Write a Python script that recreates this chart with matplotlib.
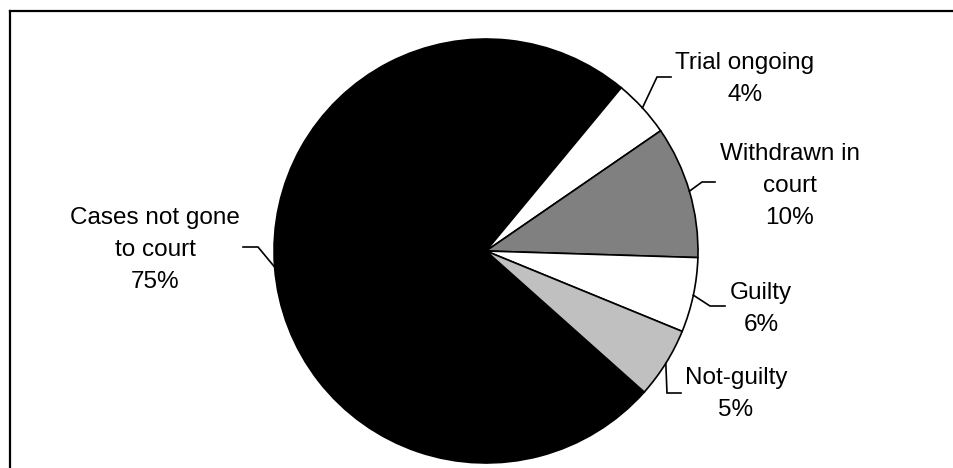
import numpy as np
import matplotlib
matplotlib.use("Agg")
import matplotlib.pyplot as plt
from matplotlib.lines import Line2D


# ==========================================
# Data
# ==========================================

categories = [
    "Cases not gone\nto court",
    "Trial ongoing",
    "Withdrawn in\ncourt",
    "Guilty",
    "Not-guilty",
]
shares = [74.5, 4.4, 10.1, 5.7, 5.4]
pct_labels = [75, 4, 10, 6, 5]
colors = ["#000000", "#ffffff", "#808080", "#ffffff", "#c0c0c0"]


# ==========================================
# Layout (pixel units, y measured from top)
# ==========================================

W, H = 954, 468
CENTER = (486, 251)
RADIUS = 212
START_ANGLE = 318.3

# text centre, elbow of leader, end of leader
label_pos = [(155, 250), (745, 79), (790, 186), (761, 309), (736, 394)]
elbows = [(258, 247), (657, 77), (702, 182), (710, 306), (667, 393)]
ends = [(243, 247), (671, 77), (715, 182), (725, 306), (681, 393)]


def up(y):
    return H - y


plt.rcParams["font.family"] = ["Liberation Sans", "DejaVu Sans"]

fig = plt.figure(figsize=(W / 100, H / 100), dpi=100)
ax = fig.add_axes([0, 0, 1, 1])

wedges, _ = ax.pie(
    shares,
    colors=colors,
    center=(CENTER[0], up(CENTER[1])),
    radius=RADIUS,
    startangle=START_ANGLE,
    counterclock=False,
    wedgeprops=dict(edgecolor="black", linewidth=1.2),
    frame=True,
)
ax.set_xlim(0, W)
ax.set_ylim(0, H)
ax.set_aspect("equal")
ax.axis("off")

for w, name, pct, tp, el, en in zip(wedges, categories, pct_labels,
                                    label_pos, elbows, ends):
    mid = np.deg2rad((w.theta1 + w.theta2) / 2)
    x0 = CENTER[0] + RADIUS * np.cos(mid)
    y0 = up(CENTER[1]) + RADIUS * np.sin(mid)
    ax.plot([x0, el[0], en[0]], [y0, up(el[1]), up(en[1])],
            color="black", lw=1.2, solid_joinstyle="miter")
    ax.text(tp[0], up(tp[1]), f"{name}\n{pct}%", ha="center", va="center",
            fontsize=17.5, linespacing=1.6, color="black")

# chart frame: only the top and left edges fall inside the picture
fx, fy = 10.5 / W, 1 - 10.5 / H
fig.lines.append(Line2D([fx, 1.0], [fy, fy], transform=fig.transFigure,
                        color="black", lw=1.6))
fig.lines.append(Line2D([fx, fx], [fy, 0.0], transform=fig.transFigure,
                        color="black", lw=1.6, solid_capstyle="projecting"))

fig.savefig("out.png", dpi=100)
